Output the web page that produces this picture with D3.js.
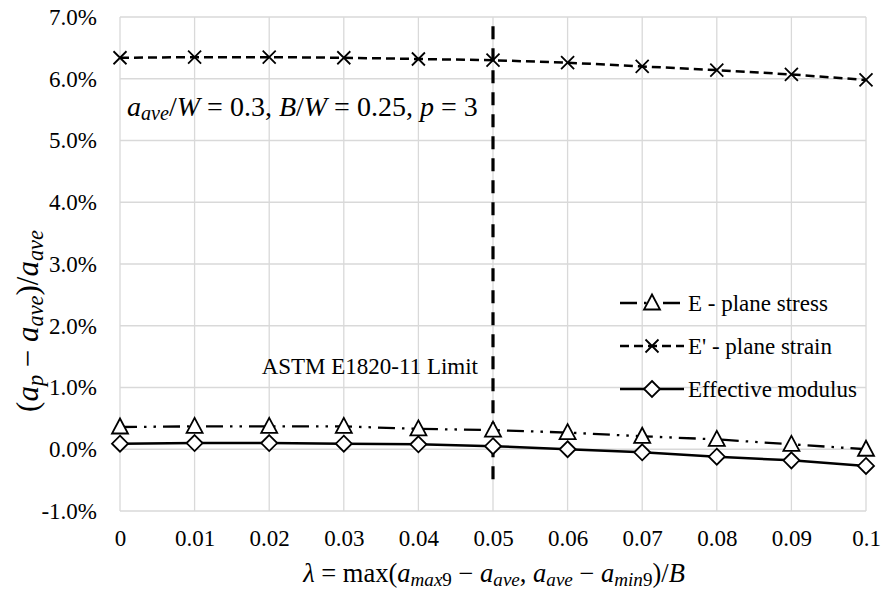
<!DOCTYPE html>
<html>
<head>
<meta charset="utf-8">
<script src="https://cdn.jsdelivr.net/npm/d3@7"></script>
<style>
  body { margin: 0; background: #fff; }
</style>
</head>
<body>
<div class="chart"></div>
<script>
// data (percent values)
var lambda = [0, 0.01, 0.02, 0.03, 0.04, 0.05, 0.06, 0.07, 0.08, 0.09, 0.1];
var planeStress = [0.36, 0.37, 0.37, 0.37, 0.33, 0.31, 0.27, 0.21, 0.16, 0.08, 0.0];
var planeStrain = [6.34, 6.35, 6.35, 6.34, 6.32, 6.30, 6.26, 6.20, 6.14, 6.07, 5.98];
var effModulus = [0.09, 0.10, 0.10, 0.09, 0.08, 0.05, 0.0, -0.05, -0.12, -0.18, -0.27];
var limitX = [0.05, 0.05];
var limitY = [6.85, -0.63];
var yTicks = [-1, 0, 1, 2, 3, 4, 5, 6, 7];
var xTickLabels = ["0", "0.01", "0.02", "0.03", "0.04", "0.05", "0.06", "0.07", "0.08", "0.09", "0.1"];
var seriesNames = ["E - plane stress", "E' - plane strain", "Effective modulus"];

var FONT = "Liberation Serif";

var svgWidth = 882, svgHeight = 591;
var margin = { top: 17, right: 16, bottom: 80, left: 120 };
var width = svgWidth - margin.left - margin.right;
var height = svgHeight - margin.top - margin.bottom;

var svg = d3.select(".chart")
  .append("svg")
  .attr("width", svgWidth)
  .attr("height", svgHeight)
  .style("font-family", FONT);

var chartGroup = svg.append("g")
  .attr("transform", `translate(${margin.left}, ${margin.top})`);

var xScale = d3.scaleLinear().domain([0, 0.1]).range([0, width]);
var yScale = d3.scaleLinear().domain([-1, 7]).range([height, 0]);

// gridlines
chartGroup.append("g")
  .selectAll("line")
  .data(yTicks)
  .enter().append("line")
  .attr("x1", 0).attr("x2", width)
  .attr("y1", d => yScale(d)).attr("y2", d => yScale(d))
  .attr("stroke", "#d9d9d9").attr("stroke-width", 1.3);

chartGroup.append("g")
  .selectAll("line")
  .data(lambda)
  .enter().append("line")
  .attr("x1", d => xScale(d)).attr("x2", d => xScale(d))
  .attr("y1", 0).attr("y2", height)
  .attr("stroke", "#d9d9d9").attr("stroke-width", 1.3);

// axes (labels only)
var leftAxis = d3.axisLeft(yScale).tickValues(yTicks)
  .tickFormat(d => d.toFixed(1) + "%").tickSize(0).tickPadding(23);
var bottomAxis = d3.axisBottom(xScale).tickValues(lambda)
  .tickFormat((d, i) => xTickLabels[i]).tickSize(0).tickPadding(19);

var gy = chartGroup.append("g").call(leftAxis);
var gx = chartGroup.append("g").attr("transform", `translate(0, ${height})`).call(bottomAxis);
[gx, gy].forEach(function (g) {
  g.attr("font-family", null).attr("font-size", null);
  g.select(".domain").remove();
  g.selectAll("text")
    .style("font-family", FONT)
    .style("font-size", "23px")
    .attr("fill", "#000");
});

// series lines
var line = d3.line()
  .x((d, i) => xScale(lambda[i]))
  .y(d => yScale(d));

var stressDash = "17 7 2.5 7 2.5 7";
var strainDash = "9 5";

chartGroup.append("path").datum(planeStress)
  .attr("d", line).attr("fill", "none").attr("stroke", "#000")
  .attr("stroke-width", 2.3).attr("stroke-dasharray", stressDash);

chartGroup.append("path").datum(planeStrain)
  .attr("d", line).attr("fill", "none").attr("stroke", "#000")
  .attr("stroke-width", 2.5).attr("stroke-dasharray", strainDash);

chartGroup.append("path").datum(effModulus)
  .attr("d", line).attr("fill", "none").attr("stroke", "#000")
  .attr("stroke-width", 2.5);

// limit line
chartGroup.append("line")
  .attr("x1", xScale(limitX[0])).attr("x2", xScale(limitX[1]))
  .attr("y1", yScale(limitY[0])).attr("y2", yScale(limitY[1]))
  .attr("stroke", "#000").attr("stroke-width", 3.2)
  .attr("stroke-dasharray", "13 9");

// markers
var triPath = "M0,-8.5L8,6.5L-8,6.5Z";
var diaPath = "M0,-8L8,0L0,8L-8,0Z";
var xPath = "M-6.5,-6.5L6.5,6.5M-6.5,6.5L6.5,-6.5";

function markers(data, path, fill) {
  chartGroup.append("g").selectAll("path")
    .data(data).enter().append("path")
    .attr("transform", (d, i) => `translate(${xScale(lambda[i])}, ${yScale(d)})`)
    .attr("d", path)
    .attr("fill", fill)
    .attr("stroke", "#000").attr("stroke-width", 1.8);
}
markers(planeStress, triPath, "#fff");
markers(planeStrain, xPath, "none");
markers(effModulus, diaPath, "#fff");

// legend
var legend = chartGroup.append("g");
var legendY = [303, 346, 389];
var legendDash = [stressDash, strainDash, null];
var legendMark = [triPath, xPath, diaPath];
var legendFill = ["#fff", "none", "#fff"];
seriesNames.forEach(function (name, i) {
  var yy = legendY[i] - margin.top;
  var x0 = 620 - margin.left, x1 = 684 - margin.left;
  legend.append("line")
    .attr("x1", x0).attr("x2", x1).attr("y1", yy).attr("y2", yy)
    .attr("stroke", "#000").attr("stroke-width", 2.3)
    .attr("stroke-dasharray", legendDash[i]);
  legend.append("path")
    .attr("transform", `translate(${(x0 + x1) / 2}, ${yy})`)
    .attr("d", legendMark[i]).attr("fill", legendFill[i])
    .attr("stroke", "#000").attr("stroke-width", 1.8);
  legend.append("text")
    .attr("x", x1 + 4).attr("y", yy).attr("dy", "0.35em")
    .style("font-family", FONT).style("font-size", "23px").attr("fill", "#000")
    .text(name);
});

// annotations
chartGroup.append("text")
  .attr("x", xScale(0.05) - 15).attr("y", 374 - margin.top)
  .attr("text-anchor", "end")
  .style("font-family", FONT).style("font-size", "23px")
  .text("ASTM E1820-11 Limit");

// rich text helper: segments [text, italic, sub]
function rich(g, segs, size) {
  var t = g.append("text").style("font-family", FONT)
    .style("font-size", size + "px").attr("fill", "#000");
  segs.forEach(function (s) {
    var ts = t.append("tspan").text(s[0]);
    if (s[1]) ts.style("font-style", "italic");
    if (s[2]) ts.style("font-size", (size * 0.72) + "px").attr("baseline-shift", "-22%");
  });
  return t;
}

rich(chartGroup, [
  ["a", true], ["ave", true, true], ["/", false], ["W", true], [" = 0.3, ", false],
  ["B", true], ["/", false], ["W", true], [" = 0.25, ", false], ["p", true], [" = 3", false]
], 28).attr("x", 127 - margin.left).attr("y", 116 - margin.top);

// x-axis title
rich(svg, [
  ["λ", true], [" = max(", false], ["a", true], ["max", true, true], ["9", false, true],
  [" − ", false], ["a", true], ["ave", true, true], [", ", false], ["a", true], ["ave", true, true],
  [" − ", false], ["a", true], ["min", true, true], ["9", false, true], [")/", false], ["B", true]
], 26.5).attr("x", 494).attr("y", 582).attr("text-anchor", "middle");

// y-axis title
rich(svg, [
  ["(", false], ["a", true], ["p", true, true], [" − ", false], ["a", true], ["ave", true, true],
  [")/", false], ["a", true], ["ave", true, true]
], 31).attr("transform", "translate(38, 321) rotate(-90)").attr("text-anchor", "middle");
</script>
</body>
</html>
